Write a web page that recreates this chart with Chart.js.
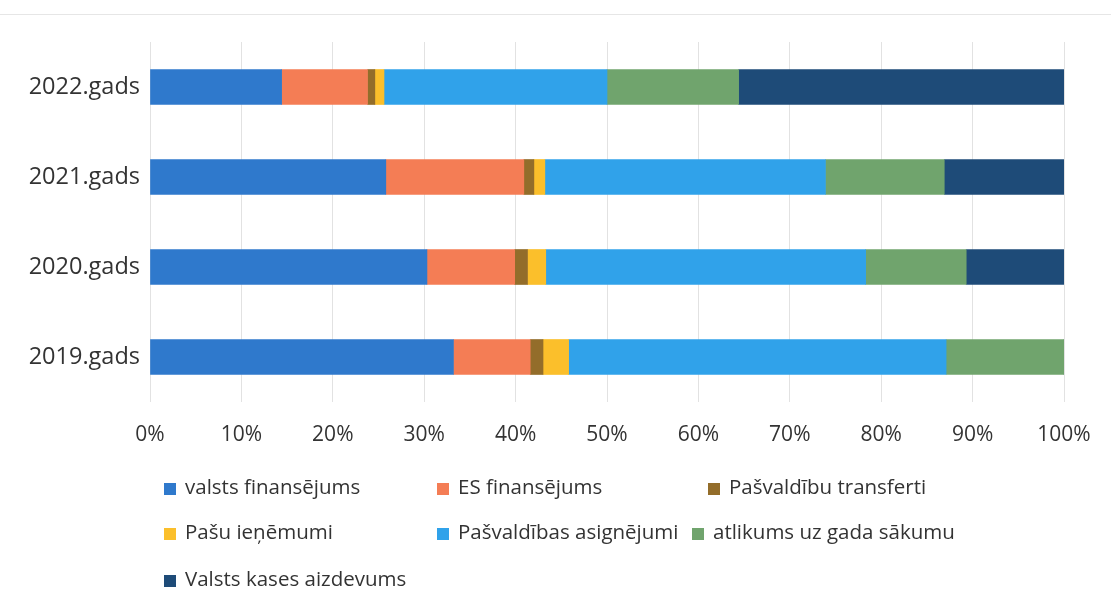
<!DOCTYPE html>
<html>
<head>
<meta charset="utf-8">
<script src="https://cdn.jsdelivr.net/npm/chart.js@4"></script>
<style>
  html, body { margin: 0; padding: 0; background: #fff; }
  #wrap { position: relative; width: 1111px; height: 603px; }
  #frame { position: absolute; left: 0; top: 14px; width: 1111px; height: 0; border-top: 1px solid #e6e6e6; }
  #grafico { position: absolute; left: 0; top: 0; }
  .leg { position: absolute; font-family: "Open Sans", Lato, sans-serif; font-size: 20.5px; color: #333; white-space: nowrap; line-height: 24px; }
  .leg i { display: inline-block; width: 12px; height: 12px; margin-right: 9px; vertical-align: -1px; }
</style>
</head>
<body>
<div id="wrap">
  <div id="frame"></div>
  <canvas id="grafico" width="1111" height="603"></canvas>
  <div id="legenda"></div>
</div>
<script>
var gadi = ["2022.gads", "2021.gads", "2020.gads", "2019.gads"];

var valstsFinansejums = [14.4, 25.8, 30.3, 33.2];
var esFinansejums = [9.4, 15.1, 9.6, 8.4];
var pasvaldibuTransferti = [0.8, 1.1, 1.4, 1.4];
var pasuIenemumi = [1.0, 1.2, 2.0, 2.8];
var pasvaldibasAsignejumi = [24.4, 30.7, 35.0, 41.3];
var atlikums = [14.4, 13.0, 11.0, 12.9];
var kasesAizdevums = [35.6, 13.1, 10.7, 0];

var xTicks = [0, 10, 20, 30, 40, 50, 60, 70, 80, 90, 100];

var serijas = [
    { label: "valsts finansējums", data: valstsFinansejums, color: "#2f79cc" },
    { label: "ES finansējums", data: esFinansejums, color: "#f47d55" },
    { label: "Pašvaldību transferti", data: pasvaldibuTransferti, color: "#936d2a" },
    { label: "Pašu ieņēmumi", data: pasuIenemumi, color: "#fbbf2b" },
    { label: "Pašvaldības asignējumi", data: pasvaldibasAsignejumi, color: "#30a2ea" },
    { label: "atlikums uz gada sākumu", data: atlikums, color: "#70a46d" },
    { label: "Valsts kases aizdevums", data: kasesAizdevums, color: "#1e4b78" }
];

// legend positions (Excel style columns)
var legPos = [[164, 486], [437, 486], [708, 486], [164, 531], [437, 531], [692, 531], [164, 578]];

var txt = "#333333";

var config = {
    type: "bar",
    data: {
        labels: gadi,
        datasets: serijas.map(function (s) {
            return {
                label: s.label,
                data: s.data,
                backgroundColor: s.color,
                borderWidth: 0,
                barThickness: 35
            };
        })
    },
    options: {
        indexAxis: "y",
        responsive: false,
        animation: false,
        layout: { padding: { top: 42, right: 47, left: 0, bottom: 151 } },
        plugins: { legend: { display: false }, tooltip: { enabled: false } },
        scales: {
            x: {
                stacked: true,
                min: 0,
                max: 100,
                afterBuildTicks: function (axis) {
                    axis.ticks = xTicks.map(function (v) { return { value: v }; });
                },
                afterFit: function (axis) { axis.height = 50; },
                grid: { color: "#e2e2e2", lineWidth: 1, drawTicks: false },
                border: { display: false },
                ticks: {
                    color: txt,
                    font: { family: "'Open Sans', Lato, sans-serif", size: 21 },
                    padding: 20,
                    callback: function (v) { return v + "%"; }
                }
            },
            y: {
                stacked: true,
                afterFit: function (axis) { axis.width = 150; },
                grid: { display: false, drawTicks: false },
                border: { display: false },
                ticks: { color: txt, font: { family: "'Open Sans', Lato, sans-serif", size: 23.5 }, padding: 10 }
            }
        }
    }
};

var canvasElement = document.getElementById("grafico");
var grafiks = new Chart(canvasElement, config);

var legenda = document.getElementById("legenda");
serijas.forEach(function (s, i) {
    var d = document.createElement("div");
    d.className = "leg";
    d.style.left = legPos[i][0] + "px";
    d.style.top = (legPos[i][1] - 12) + "px";
    d.innerHTML = '<i style="background:' + s.color + '"></i>' + s.label;
    legenda.appendChild(d);
});
</script>
</body>
</html>
